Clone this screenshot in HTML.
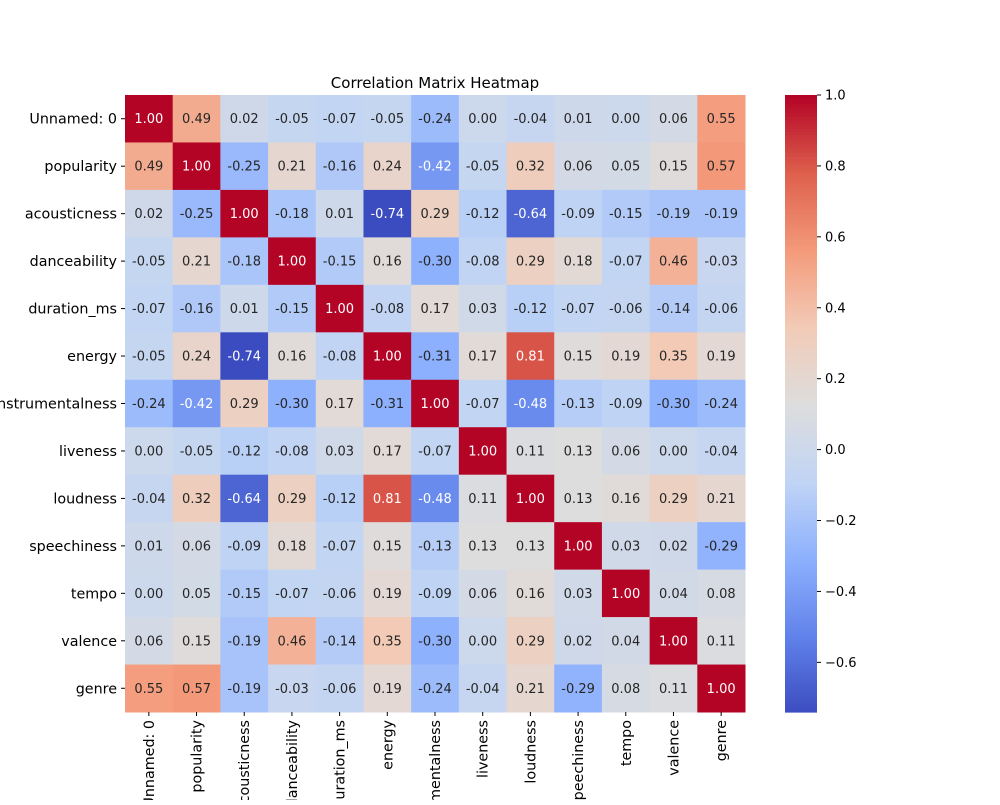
<!DOCTYPE html>
<html><head><meta charset="utf-8"><style>
body{margin:0;background:#fff;}
svg{font-family:"DejaVu Sans","Liberation Sans",sans-serif;}
</style></head><body>
<svg id="chart" width="1000" height="800"></svg>
<script>
const labels=["Unnamed: 0","popularity","acousticness","danceability","duration_ms","energy","instrumentalness","liveness","loudness","speechiness","tempo","valence","genre"];
const matrix=[
[1.00,0.49,0.02,-0.05,-0.07,-0.05,-0.24,0.00,-0.04,0.01,0.00,0.06,0.55],
[0.49,1.00,-0.25,0.21,-0.16,0.24,-0.42,-0.05,0.32,0.06,0.05,0.15,0.57],
[0.02,-0.25,1.00,-0.18,0.01,-0.74,0.29,-0.12,-0.64,-0.09,-0.15,-0.19,-0.19],
[-0.05,0.21,-0.18,1.00,-0.15,0.16,-0.30,-0.08,0.29,0.18,-0.07,0.46,-0.03],
[-0.07,-0.16,0.01,-0.15,1.00,-0.08,0.17,0.03,-0.12,-0.07,-0.06,-0.14,-0.06],
[-0.05,0.24,-0.74,0.16,-0.08,1.00,-0.31,0.17,0.81,0.15,0.19,0.35,0.19],
[-0.24,-0.42,0.29,-0.30,0.17,-0.31,1.00,-0.07,-0.48,-0.13,-0.09,-0.30,-0.24],
[0.00,-0.05,-0.12,-0.08,0.03,0.17,-0.07,1.00,0.11,0.13,0.06,0.00,-0.04],
[-0.04,0.32,-0.64,0.29,-0.12,0.81,-0.48,0.11,1.00,0.13,0.16,0.29,0.21],
[0.01,0.06,-0.09,0.18,-0.07,0.15,-0.13,0.13,0.13,1.00,0.03,0.02,-0.29],
[0.00,0.05,-0.15,-0.07,-0.06,0.19,-0.09,0.06,0.16,0.03,1.00,0.04,0.08],
[0.06,0.15,-0.19,0.46,-0.14,0.35,-0.30,0.00,0.29,0.02,0.04,1.00,0.11],
[0.55,0.57,-0.19,-0.03,-0.06,0.19,-0.24,-0.04,0.21,-0.29,0.08,0.11,1.00]];
const cbTicks=[1.0,0.8,0.6,0.4,0.2,0.0,-0.2,-0.4,-0.6];
const vmin=-0.74,vmax=1.0;

const NS="http://www.w3.org/2000/svg";
const svg=document.getElementById('chart');
function mk(t,a,p){const e=document.createElementNS(NS,t);for(const k in a)e.setAttribute(k,a[k]);(p||svg).appendChild(e);return e;}
const L=125,T=95,W=620,H=617,n=labels.length,cw=W/n,ch=H/n;
const stops=[[0,[59,76,192]],[0.125,[97,130,234]],[0.25,[141,176,254]],[0.375,[192,212,245]],[0.5,[221,221,221]],[0.625,[242,203,183]],[0.75,[244,154,123]],[0.875,[222,96,77]],[1,[180,4,38]]];
function cmap(v){let t=(v-vmin)/(vmax-vmin);t=Math.max(0,Math.min(1,t));
 for(let i=1;i<stops.length;i++){if(t<=stops[i][0]){const a=stops[i-1],b=stops[i];const f=(t-a[0])/(b[0]-a[0]);
 return a[1].map((c,j)=>Math.round(c+(b[1][j]-c)*f));}}return stops[8][1];}
function lum(c){const l=c.map(x=>{x/=255;return x<=0.03928?x/12.92:Math.pow((x+0.055)/1.055,2.4);});return 0.2126*l[0]+0.7152*l[1]+0.0722*l[2];}
const xs=i=>L+i*cw, ys=i=>T+i*ch;

const t=mk('text',{x:435,y:88,'text-anchor':'middle','font-size':15});t.textContent='Correlation Matrix Heatmap';



for(let r=0;r<n;r++)for(let c=0;c<n;c++){
 const v=matrix[r][c],col=cmap(v);
 const rc=mk('rect',{x:xs(c),y:ys(r),width:cw+0.5,height:ch+0.5,fill:`rgb(${col})`});
 
 
 const tx=mk('text',{x:xs(c)+cw/2,y:ys(r)+ch/2+4.5,'text-anchor':'middle','font-size':13,fill:lum(col)>0.408?'#262626':'#fff'});
 tx.textContent=v.toFixed(2);
 
 
}
for(let i=0;i<n;i++){
 mk('line',{x1:L-4,x2:L,y1:ys(i)+ch/2,y2:ys(i)+ch/2,stroke:'#000'});
 const yl=mk('text',{x:L-8,y:ys(i)+ch/2+5,'text-anchor':'end','font-size':14.3});yl.textContent=labels[i];
 
 
 const cx=xs(i)+cw/2;
 mk('line',{x1:cx,x2:cx,y1:T+H,y2:T+H+4,stroke:'#000'});
 const xl=mk('text',{x:0,y:0,'text-anchor':'end','font-size':14.3,transform:`translate(${cx+5},${T+H+8}) rotate(-90)`});xl.textContent=labels[i];
 
 
}
// colorbar
const cbX=785,cbW=32,cbT=95,cbB=712;
const g=mk('g',{});


for(let k=0;k<200;k++){const v=vmax-(vmax-vmin)*k/200;mk('rect',{x:cbX,y:cbT+(cbB-cbT)*k/200,width:cbW,height:(cbB-cbT)/200+0.6,fill:`rgb(${cmap(v)})`},g);}
const cy=v=>cbT+(vmax-v)/(vmax-vmin)*(cbB-cbT);
cbTicks.forEach(v=>{const y=cy(v);mk('line',{x1:cbX+cbW,x2:cbX+cbW+4,y1:y,y2:y,stroke:'#000'});
 const tl=mk('text',{x:cbX+cbW+8,y:y+4.5,'font-size':13});tl.textContent=(v<0?'\u2212':'')+Math.abs(v).toFixed(1);
 
 });
</script>
</body></html>
